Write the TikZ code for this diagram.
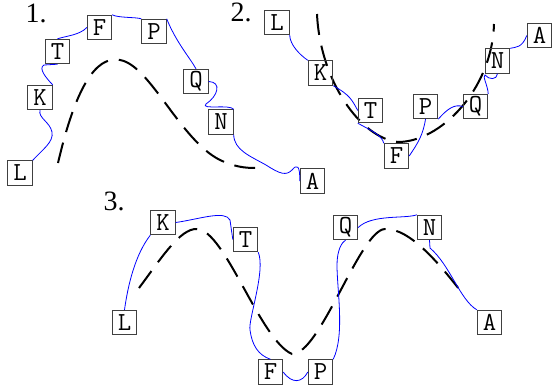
\documentclass[tikz,border=0pt]{standalone}
\usepackage{fontspec}
\newfontfamily\numfont{Liberation Serif}
\begin{document}
\begin{tikzpicture}[x=1pt,y=-1pt,
  lbox/.style={draw=black!75,line width=0.9pt,minimum size=24.5pt,inner sep=0pt,
    font=\fontsize{26}{26}\selectfont\ttfamily},
  num/.style={font=\fontsize{28}{28}\selectfont\numfont,inner sep=0pt},
  link/.style={blue,line width=0.8pt},
  guide/.style={black,line width=2pt,dash pattern=on 21pt off 11pt}]
\useasboundingbox (0,0) rectangle (552,391);
% labels
\node[num] (n1) at (36,13) {1.};
\node[num] (n2) at (241,12) {2.};
\node[num] (n3) at (114,201) {3.};
% group 1 dashed
\draw[guide] (58,163) .. controls (75,90) and (95,55) .. (120,60)
  .. controls (150,65) and (180,140) .. (220,160)
  .. controls (235,167) and (245,168) .. (256,168);
% group 2 dashed
\draw[guide] (317,14) .. controls (320,80) and (360,138) .. (398,142)
  .. controls (440,142) and (492,90) .. (494,24);
% group 3 dashed
\draw[guide] (139,288) .. controls (160,260) and (180,228) .. (197,229)
  .. controls (225,230) and (260,340) .. (292,354)
  .. controls (320,355) and (360,230) .. (385,229)
  .. controls (410,228) and (440,265) .. (459,289);
% group 1 nodes
\node[lbox] (aL) at (20,173) {L};
\node[lbox] (aK) at (40,97.5) {K};
\node[lbox] (aT) at (57.5,51.5) {T};
\node[lbox] (aF) at (99.5,27.5) {F};
\node[lbox] (aP) at (154,31.5) {P};
\node[lbox] (aQ) at (196,81.5) {Q};
\node[lbox] (aN) at (221,122) {N};
\node[lbox] (aA) at (312.5,181) {A};
% group 2 nodes
\node[lbox] (bL) at (277,22.5) {L};
\node[lbox] (bK) at (320.5,73) {K};
\node[lbox] (bT) at (370.5,110.5) {T};
\node[lbox] (bF) at (396.5,156) {F};
\node[lbox] (bP) at (425.5,106.5) {P};
\node[lbox] (bQ) at (475.5,106.5) {Q};
\node[lbox] (bN) at (497.5,61) {N};
\node[lbox] (bA) at (539.5,35.5) {A};
% group 3 nodes
\node[lbox] (cL) at (124.5,322.5) {L};
\node[lbox] (cK) at (163,222.5) {K};
\node[lbox] (cT) at (245.5,239.5) {T};
\node[lbox] (cF) at (270.5,372) {F};
\node[lbox] (cP) at (320.5,372) {P};
\node[lbox] (cQ) at (345.5,227.5) {Q};
\node[lbox] (cN) at (429.5,227.5) {N};
\node[lbox] (cA) at (489.5,322.5) {A};
% group 1 links
\draw[link] (aL.north east) .. controls (42,150) and (54,142) .. (52,132)
  .. controls (50,122) and (38,118) .. (aK.south);
\draw[link] (aK.north east) .. controls (46,78) and (38,68) .. (44,65) -- (aT.south);
\draw[link] (aT.north) .. controls (66,36) and (80,35) .. (aF.west);
\draw[link] (aF.north east) .. controls (118,18) and (136,17) .. (aP.north west);
\draw[link] (aP.north east) .. controls (176,42) and (190,58) .. (aQ.north);
\draw[link] (aQ.east) .. controls (222,82) and (218,96) .. (206,104)
  .. controls (200,110) and (230,104) .. (aN.north east);
\draw[link] (aN.south east) .. controls (234,150) and (250,156) .. (266,165)
  .. controls (280,174) and (286,176) .. (292,170)
  .. controls (297,164) and (300,165) .. (aA.west);
% group 2 links
\draw[link] (bL.south east) .. controls (290,45) and (300,55) .. (bK.north west);
\draw[link] (bK.south east) .. controls (350,95) and (352,100) .. (bT.west);
\draw[link] (bT.south west) .. controls (370,130) and (382,135) .. (bF.north west);
\draw[link] (bF.east) .. controls (418,143) and (423,135) .. (bP.south);
\draw[link] (bP.south east) .. controls (448,108) and (455,104) .. (bQ.west);
\draw[link] (bQ.north east) .. controls (488,86) and (482,76) .. (485,75)
  .. controls (489,80) and (497,80) .. (bN.south);
\draw[link] (bN.north east) .. controls (516,47) and (522,48) .. (bA.west);
% group 3 links
\draw[link] (cL.north) .. controls (128,285) and (135,255) .. (cK.south west);
\draw[link] (cK.east) .. controls (200,219) and (225,210) .. (230,220) -- (cT.west);
\draw[link] (cT.south east) .. controls (266,270) and (248,320) .. (250,330)
  .. controls (252,345) and (258,355) .. (cF.north);
\draw[link] (cF.east) .. controls (292,384) and (302,383) .. (cP.west);
\draw[link] (cP.north east) .. controls (345,335) and (337,290) .. (337,265)
  .. controls (337,250) and (342,242) .. (cQ.south);
\draw[link] (cQ.east) .. controls (372,214) and (405,219) .. (cN.north west);
\draw[link] (cN.south) -- (430,248) .. controls (450,265) and (460,300) .. (cA.north west);
\end{tikzpicture}
\end{document}
